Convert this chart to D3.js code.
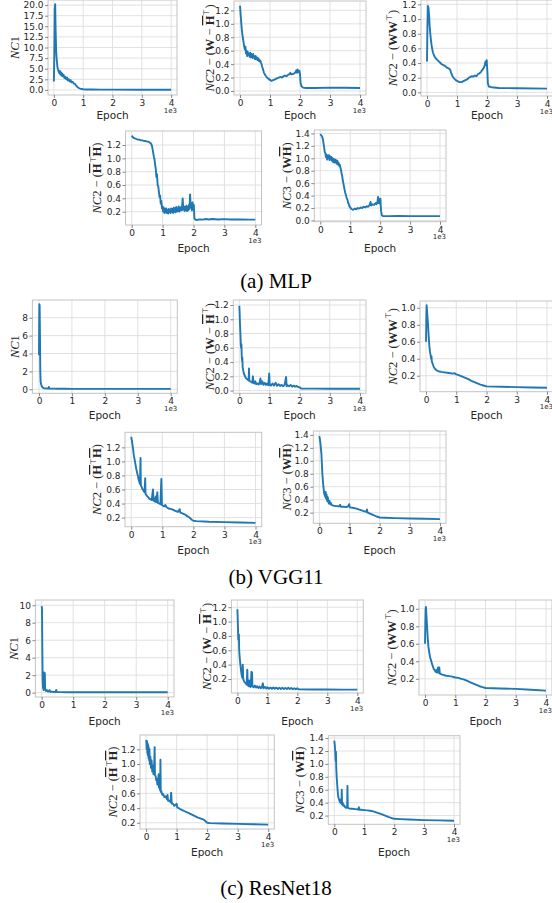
<!DOCTYPE html>
<html><head><meta charset="utf-8">
<script src="https://cdn.jsdelivr.net/npm/d3@7"></script>
<style>body{margin:0;background:#fff} svg{display:block}</style>
</head><body>
<svg id="fig" width="552" height="903"></svg>
<script>
// ---------------- DATA (epoch, value) ----------------
const mlpNC1 = [[0,2.0],[15,8],[30,19],[45,20.2],[60,14],[80,9],[100,7],[120,5.5],[140,4.8],[160,4.4],[180,4.0],[200,4.5],[220,3.6],[240,4.2],[260,3.4],[280,3.9],[300,3.2],[330,3.6],[360,2.8],[390,3.1],[420,2.5],[450,2.9],[480,2.2],[510,2.5],[540,2.0],[570,2.3],[600,1.8],[640,1.9],[680,1.5],[720,1.4],[760,1.0],[800,0.7],[850,0.45],[900,0.3],[950,0.2],[1000,0.15],[1100,0.1],[1300,0.08],[1600,0.07],[2000,0.06],[3000,0.05],[4000,0.05]];
const mlpNC2WH = [[0,1.27],[20,1.15],[40,1.02],[60,0.92],[80,0.84],[100,0.78],[120,0.72],[140,0.66],[160,0.62],[180,0.66],[200,0.56],[220,0.6],[240,0.52],[260,0.58],[280,0.54],[300,0.55],[320,0.51],[340,0.57],[360,0.5],[380,0.55],[400,0.53],[420,0.49],[440,0.55],[460,0.5],[480,0.52],[500,0.47],[520,0.52],[540,0.48],[560,0.5],[580,0.46],[600,0.49],[620,0.45],[640,0.47],[660,0.44],[680,0.45],[700,0.42],[720,0.4],[740,0.36],[760,0.33],[780,0.3],[800,0.27],[850,0.23],[900,0.2],[950,0.18],[1000,0.165],[1050,0.15],[1100,0.16],[1150,0.17],[1200,0.18],[1250,0.19],[1300,0.2],[1350,0.21],[1400,0.2],[1450,0.22],[1500,0.23],[1550,0.22],[1600,0.24],[1650,0.25],[1680,0.27],[1700,0.25],[1750,0.25],[1800,0.26],[1850,0.28],[1880,0.31],[1900,0.27],[1920,0.32],[1950,0.28],[1980,0.3],[2000,0.25],[2020,0.12],[2050,0.07],[2100,0.05],[2200,0.045],[2500,0.045],[3000,0.05],[3500,0.048],[4000,0.045]];
const mlpNC2WW = [[0,0.42],[15,0.9],[30,1.18],[50,1.15],[70,1.05],[90,0.9],[110,0.8],[130,0.72],[150,0.65],[170,0.6],[200,0.54],[250,0.49],[300,0.46],[350,0.44],[400,0.42],[450,0.4],[500,0.38],[550,0.37],[600,0.36],[650,0.34],[700,0.33],[750,0.32],[780,0.3],[800,0.27],[850,0.22],[900,0.19],[950,0.17],[1000,0.155],[1050,0.145],[1100,0.14],[1150,0.14],[1200,0.15],[1250,0.16],[1300,0.17],[1350,0.18],[1400,0.2],[1450,0.21],[1500,0.22],[1550,0.215],[1600,0.23],[1650,0.22],[1700,0.25],[1750,0.26],[1800,0.28],[1850,0.31],[1900,0.34],[1930,0.38],[1950,0.42],[1970,0.37],[1990,0.44],[2010,0.3],[2030,0.12],[2060,0.08],[2150,0.07],[2400,0.06],[3000,0.055],[4000,0.05]];
const mlpNC2HH = [[0,1.34],[50,1.31],[100,1.3],[150,1.29],[200,1.28],[250,1.28],[300,1.27],[350,1.27],[400,1.26],[450,1.26],[500,1.25],[550,1.25],[600,1.23],[630,1.22],[660,1.18],[690,1.1],[720,1.02],[740,0.98],[760,0.9],[780,0.84],[800,0.72],[820,0.76],[840,0.6],[860,0.58],[880,0.5],[900,0.42],[920,0.44],[940,0.32],[960,0.36],[980,0.25],[1000,0.28],[1020,0.2],[1040,0.26],[1060,0.18],[1080,0.24],[1100,0.19],[1120,0.25],[1140,0.18],[1160,0.22],[1180,0.17],[1200,0.24],[1220,0.19],[1240,0.23],[1260,0.18],[1280,0.25],[1300,0.2],[1320,0.24],[1340,0.18],[1360,0.26],[1380,0.2],[1400,0.25],[1420,0.19],[1440,0.27],[1460,0.2],[1480,0.25],[1500,0.21],[1520,0.28],[1540,0.2],[1560,0.26],[1580,0.22],[1600,0.27],[1620,0.22],[1650,0.4],[1670,0.23],[1690,0.28],[1710,0.21],[1730,0.27],[1750,0.22],[1770,0.29],[1790,0.21],[1810,0.27],[1830,0.22],[1850,0.3],[1870,0.24],[1890,0.46],[1910,0.26],[1930,0.32],[1950,0.22],[1970,0.34],[1990,0.24],[2010,0.3],[2030,0.1],[2060,0.08],[2100,0.075],[2200,0.085],[2300,0.08],[2400,0.09],[2500,0.082],[2600,0.09],[2800,0.083],[3000,0.088],[3200,0.082],[3500,0.085],[3800,0.08],[4000,0.08]];
const mlpNC3WH = [[0,1.39],[30,1.37],[60,1.35],[90,1.3],[120,1.2],[150,1.1],[170,1.08],[190,1.02],[210,1.06],[230,0.98],[250,1.04],[270,1.0],[290,1.05],[310,0.97],[330,1.03],[350,0.98],[370,1.02],[390,0.96],[410,1.0],[430,0.94],[450,0.99],[470,0.93],[490,0.98],[510,0.93],[530,0.97],[550,0.91],[570,0.96],[590,0.9],[610,0.93],[630,0.88],[650,0.9],[670,0.85],[690,0.82],[710,0.76],[730,0.72],[750,0.65],[770,0.6],[790,0.55],[810,0.5],[830,0.45],[850,0.42],[870,0.38],[890,0.35],[910,0.33],[930,0.28],[950,0.27],[970,0.23],[1000,0.21],[1030,0.19],[1060,0.18],[1100,0.17],[1150,0.19],[1200,0.18],[1250,0.2],[1300,0.19],[1350,0.21],[1400,0.2],[1450,0.22],[1500,0.21],[1550,0.23],[1600,0.22],[1650,0.25],[1680,0.3],[1700,0.24],[1750,0.26],[1800,0.25],[1850,0.28],[1880,0.26],[1910,0.3],[1930,0.38],[1950,0.28],[1970,0.34],[1990,0.27],[2010,0.35],[2030,0.15],[2060,0.08],[2100,0.07],[2300,0.07],[2600,0.072],[3000,0.07],[3500,0.07],[4000,0.07]];

const vggNC1 = [[0,3.8],[5,7],[10,9.5],[20,9.4],[30,6],[40,2],[50,0.8],[70,0.5],[90,0.3],[110,0.2],[150,0.12],[200,0.1],[250,0.08],[290,0.1],[300,0.25],[310,0.08],[400,0.07],[600,0.06],[800,0.06],[1000,0.05],[1500,0.05],[2000,0.04],[3000,0.04],[4000,0.04]];
const vggNC2WH = [[0,1.19],[10,1.1],[20,0.95],[30,0.85],[40,0.75],[50,0.64],[60,0.6],[70,0.65],[80,0.48],[90,0.42],[100,0.46],[110,0.33],[130,0.28],[150,0.24],[170,0.22],[200,0.19],[230,0.17],[260,0.16],[290,0.15],[310,0.14],[320,0.31],[330,0.14],[360,0.13],[400,0.12],[430,0.11],[450,0.2],[470,0.11],[500,0.1],[530,0.13],[560,0.09],[600,0.1],[640,0.085],[680,0.12],[700,0.17],[720,0.09],[760,0.13],[800,0.08],[840,0.11],[880,0.08],[920,0.1],[960,0.075],[990,0.24],[1010,0.08],[1050,0.07],[1100,0.1],[1150,0.07],[1200,0.11],[1250,0.065],[1300,0.09],[1350,0.065],[1400,0.08],[1450,0.06],[1500,0.08],[1550,0.19],[1570,0.06],[1600,0.075],[1650,0.06],[1700,0.08],[1750,0.055],[1800,0.07],[1850,0.055],[1900,0.065],[1950,0.05],[2000,0.045],[2050,0.03],[2200,0.028],[2500,0.027],[3000,0.026],[3500,0.025],[4000,0.025]];
const vggNC2WW = [[0,0.6],[10,0.9],[20,1.03],[30,0.98],[50,0.88],[70,0.78],[90,0.65],[110,0.55],[130,0.48],[150,0.44],[170,0.4],[180,0.43],[190,0.37],[200,0.36],[230,0.33],[260,0.3],[300,0.28],[350,0.265],[400,0.255],[450,0.25],[500,0.245],[600,0.24],[700,0.235],[800,0.23],[900,0.225],[950,0.23],[1000,0.215],[1100,0.205],[1200,0.19],[1300,0.175],[1400,0.16],[1500,0.14],[1600,0.125],[1700,0.11],[1800,0.095],[1900,0.085],[2000,0.075],[2500,0.07],[3000,0.066],[3500,0.062],[4000,0.058]];
const vggNC2HH = [[0,1.35],[20,1.3],[40,1.24],[60,1.18],[80,1.1],[100,1.05],[120,1.0],[140,0.95],[160,0.9],[180,0.86],[200,0.82],[220,0.78],[240,0.74],[260,0.71],[280,0.68],[300,1.05],[310,0.66],[340,0.63],[370,0.6],[400,0.58],[430,0.56],[450,0.76],[460,0.54],[490,0.52],[520,0.5],[550,0.49],[580,0.47],[620,0.46],[660,0.45],[700,0.6],[720,0.44],[760,0.43],[790,0.5],[810,0.42],[840,0.56],[860,0.41],[900,0.4],[940,0.39],[970,0.75],[990,0.38],[1020,0.37],[1060,0.36],[1100,0.38],[1130,0.35],[1200,0.33],[1300,0.32],[1400,0.3],[1500,0.28],[1560,0.32],[1580,0.27],[1650,0.26],[1700,0.25],[1750,0.24],[1800,0.22],[1850,0.21],[1900,0.19],[1950,0.17],[2000,0.155],[2100,0.15],[2500,0.14],[3000,0.135],[3500,0.13],[4000,0.125]];
const vggNC3WH = [[0,1.38],[20,1.33],[40,1.25],[60,1.15],[70,1.1],[80,1.0],[90,0.9],[100,0.8],[120,0.68],[140,0.58],[160,0.5],[180,0.47],[200,0.44],[210,0.52],[220,0.42],[240,0.48],[260,0.38],[280,0.44],[300,0.36],[320,0.34],[340,0.38],[360,0.33],[380,0.35],[400,0.32],[450,0.31],[500,0.305],[550,0.3],[600,0.3],[650,0.295],[690,0.32],[710,0.29],[800,0.29],[900,0.285],[960,0.3],[990,0.33],[1010,0.28],[1100,0.275],[1200,0.265],[1300,0.25],[1400,0.235],[1500,0.22],[1560,0.21],[1580,0.25],[1600,0.2],[1700,0.18],[1800,0.16],[1900,0.14],[2000,0.125],[2200,0.12],[2500,0.115],[3000,0.11],[3500,0.105],[4000,0.1]];

const resNC1 = [[0,9.9],[10,9.5],[20,5],[30,1.5],[40,0.6],[60,0.3],[70,2.3],[80,2.3],[100,2.2],[110,0.4],[130,0.2],[160,0.3],[180,0.15],[220,0.12],[250,0.3],[270,0.1],[320,0.1],[360,0.08],[440,0.08],[460,0.3],[480,0.07],[600,0.06],[800,0.05],[1000,0.05],[2000,0.05],[3000,0.04],[4000,0.04]];
const resNC2WH = [[0,1.17],[10,1.05],[20,0.9],[30,0.75],[40,0.82],[50,0.82],[60,0.6],[80,0.48],[100,0.4],[120,0.32],[140,0.26],[160,0.22],[180,0.4],[195,0.2],[220,0.17],[250,0.15],[280,0.14],[310,0.12],[330,0.33],[345,0.12],[370,0.1],[390,0.18],[410,0.1],[440,0.09],[470,0.3],[490,0.29],[500,0.1],[540,0.085],[580,0.11],[620,0.08],[660,0.1],[700,0.075],[740,0.095],[780,0.07],[820,0.09],[850,0.14],[870,0.07],[920,0.09],[960,0.068],[1000,0.085],[1050,0.065],[1100,0.08],[1150,0.064],[1200,0.082],[1250,0.064],[1300,0.08],[1350,0.062],[1400,0.078],[1450,0.062],[1500,0.078],[1550,0.06],[1600,0.076],[1650,0.06],[1700,0.078],[1750,0.06],[1800,0.075],[1850,0.058],[1900,0.072],[1950,0.058],[2000,0.07],[2050,0.055],[2500,0.054],[3000,0.053],[3500,0.052],[4000,0.052]];
const resNC2WW = [[0,0.6],[10,0.85],[20,1.0],[30,1.02],[50,0.9],[70,0.78],[90,0.66],[110,0.57],[130,0.52],[150,0.48],[170,0.44],[200,0.41],[230,0.37],[260,0.34],[290,0.31],[320,0.3],[350,0.28],[380,0.3],[400,0.27],[430,0.33],[450,0.27],[470,0.33],[490,0.26],[550,0.25],[600,0.245],[700,0.235],[800,0.23],[900,0.225],[1000,0.215],[1100,0.21],[1200,0.2],[1300,0.19],[1400,0.175],[1500,0.16],[1600,0.145],[1700,0.13],[1800,0.115],[1900,0.105],[2000,0.095],[2500,0.09],[3000,0.085],[3500,0.075],[4000,0.065]];
const resNC2HH = [[0,1.33],[10,1.3],[20,1.2],[30,1.31],[40,1.15],[50,1.28],[60,1.12],[70,1.26],[80,1.08],[90,1.22],[100,1.05],[110,1.2],[120,1.0],[140,1.1],[160,0.95],[180,1.05],[200,0.9],[220,0.98],[240,0.86],[260,0.92],[280,1.23],[290,0.85],[310,0.84],[330,0.78],[350,0.8],[370,0.72],[390,0.74],[410,0.86],[420,0.68],[440,0.7],[460,0.64],[470,1.06],[480,0.62],[500,0.63],[530,0.58],[560,0.59],[600,0.55],[640,0.56],[680,0.52],[700,0.58],[720,0.5],[760,0.5],[800,0.48],[820,0.61],[840,0.46],[880,0.46],[920,0.43],[960,0.44],[1000,0.46],[1020,0.41],[1100,0.39],[1200,0.37],[1300,0.35],[1400,0.33],[1500,0.31],[1600,0.29],[1700,0.27],[1800,0.255],[1900,0.24],[1950,0.22],[2000,0.2],[2100,0.195],[2500,0.19],[3000,0.185],[3500,0.18],[4000,0.175]];
const resNC3WH = [[0,1.36],[15,1.3],[30,1.2],[45,1.05],[55,1.19],[65,0.95],[80,0.8],[95,0.7],[110,0.6],[125,0.52],[140,0.48],[160,0.45],[180,0.42],[200,0.4],[220,0.45],[240,0.38],[250,0.6],[260,0.37],[280,0.4],[300,0.35],[330,0.36],[360,0.33],[400,0.32],[430,0.34],[440,0.66],[450,0.32],[500,0.31],[600,0.305],[700,0.3],[800,0.295],[820,0.33],[840,0.29],[900,0.29],[1000,0.285],[1100,0.28],[1200,0.275],[1300,0.265],[1400,0.25],[1500,0.235],[1600,0.22],[1700,0.2],[1800,0.18],[1900,0.165],[2000,0.15],[2200,0.145],[2500,0.14],[3000,0.13],[3500,0.125],[4000,0.12]];

// ---------------- TICKS & TEXT ----------------
const xTicks = [0,1000,2000,3000,4000];
const xTickLabels = ["0","1","2","3","4"];
const xOffsetText = "1e3";
const xLabelText = "Epoch";
const yTicksNC1mlp = [0,2.5,5,7.5,10,12.5,15,17.5,20];
const yTicksNC1vgg = [0,2,4,6,8];
const yTicksNC1res = [0,2,4,6,8,10];
const yTicks0to12 = [0,0.2,0.4,0.6,0.8,1.0,1.2];
const yTicks02to12 = [0.2,0.4,0.6,0.8,1.0,1.2];
const yTicks0to14 = [0,0.2,0.4,0.6,0.8,1.0,1.2,1.4];
const yTicks02to14 = [0.2,0.4,0.6,0.8,1.0,1.2,1.4];
const yTicks02to10 = [0.2,0.4,0.6,0.8,1.0];
const captions = ["(a) MLP","(b) VGG11","(c) ResNet18"];

// label pieces: s = it (italic), b (bold), bo (bold+overline), sup (superscript)
const labNC1 = [{t:"NC",s:"it"},{t:"1"}];
const labWH2 = [{t:"NC",s:"it"},{t:"2 − ("},{t:"W",s:"b"},{t:" − "},{t:"H",s:"bo"},{t:"⊤",s:"sup"},{t:")"}];
const labWW2 = [{t:"NC",s:"it"},{t:"2 − ("},{t:"WW",s:"b"},{t:"⊤",s:"sup"},{t:")"}];
const labHH2 = [{t:"NC",s:"it"},{t:"2 − ("},{t:"H",s:"bo"},{t:"⊤",s:"sup"},{t:"H",s:"bo"},{t:")"}];
const labWH3 = [{t:"NC",s:"it"},{t:"3 − ("},{t:"W",s:"b"},{t:"H",s:"bo"},{t:")"}];

// ---------------- LAYOUT ----------------
const panels = [
  {data:mlpNC1, ticks:yTicksNC1mlp, fmt:".1f", lab:labNC1, frame:[48,0,177,95], yd:[-1.2,21.2], lx:15, ey:115},
  {data:mlpNC2WH, ticks:yTicks0to12, fmt:".1f", lab:labWH2, frame:[234,1,366,95], yd:[-0.06,1.34], lx:210, ey:115},
  {data:mlpNC2WW, ticks:yTicks0to12, fmt:".1f", lab:labWW2, frame:[421,0,553,96], yd:[-0.05,1.26], lx:393, ey:115},
  {data:mlpNC2HH, ticks:yTicks02to12, fmt:".1f", lab:labHH2, frame:[125.5,131,261.5,225], yd:[0.0,1.41], lx:97, ey:248},
  {data:mlpNC3WH, ticks:yTicks0to14, fmt:".1f", lab:labWH3, frame:[314.3,130,446,221.7], yd:[-0.02,1.455], lx:287, ey:248},

  {data:vggNC1, ticks:yTicksNC1vgg, fmt:"d", lab:labNC1, frame:[32.4,300,177.3,393.3], yd:[-0.45,9.98], lx:15, ey:415},
  {data:vggNC2WH, ticks:yTicks0to12, fmt:".1f", lab:labWH2, frame:[233.3,300,366,393.3], yd:[-0.038,1.27], lx:210, ey:415},
  {data:vggNC2WW, ticks:yTicks02to10, fmt:".1f", lab:labWW2, frame:[420,301,553,391.7], yd:[0.012,1.08], lx:393, ey:415},
  {data:vggNC2HH, ticks:yTicks02to12, fmt:".1f", lab:labHH2, frame:[125,432.3,261.7,526.7], yd:[0.07,1.415], lx:97, ey:550},
  {data:vggNC3WH, ticks:yTicks02to14, fmt:".1f", lab:labWH3, frame:[313.3,431,446,523.3], yd:[0.035,1.46], lx:287, ey:550},

  {data:resNC1, ticks:yTicksNC1res, fmt:"d", lab:labNC1, frame:[35.4,600,174,697], yd:[-0.5,10.6], lx:14, ey:721},
  {data:resNC2WH, ticks:yTicks02to12, fmt:".1f", lab:labWH2, frame:[231.4,600,363.3,693], yd:[0.005,1.3], lx:207, ey:721},
  {data:resNC2WW, ticks:yTicks02to10, fmt:".1f", lab:labWW2, frame:[419,600,552,695], yd:[0.015,1.1], lx:392, ey:721},
  {data:resNC2HH, ticks:yTicks02to12, fmt:".1f", lab:labHH2, frame:[140,735,274.3,829], yd:[0.115,1.395], lx:113, ey:852},
  {data:resNC3WH, ticks:yTicks02to14, fmt:".1f", lab:labWH3, frame:[328.3,735.7,460,824.3], yd:[0.065,1.437], lx:300, ey:852}
];
const captionY = [281, 577, 888];

// ---------------- DRAW ----------------
const svg = d3.select("#fig");
const TXT = "#262626", GRID = "#dedede", EDGE = "#c4c4c4", LINE = "#1f77b4";
const sans = "DejaVu Sans, sans-serif";
const serif = "Liberation Serif, Times New Roman, serif";

panels.forEach((p, i) => {
  const [x0,y0,x1,y1] = p.frame;
  const x = d3.scaleLinear().domain([-200,4200]).range([x0,x1]);
  const y = d3.scaleLinear().domain(p.yd).range([y1,y0]);
  const g = svg.append("g");
  const cid = "clip" + i;
  svg.append("clipPath").attr("id", cid).append("rect")
    .attr("x", x0).attr("y", y0).attr("width", x1-x0).attr("height", y1-y0);

  // grid
  g.append("g").selectAll("line").data(xTicks).join("line")
    .attr("x1", d=>x(d)).attr("x2", d=>x(d)).attr("y1", y0).attr("y2", y1)
    .attr("stroke", GRID).attr("stroke-width", 0.9);
  g.append("g").selectAll("line").data(p.ticks).join("line")
    .attr("x1", x0).attr("x2", x1).attr("y1", d=>y(d)).attr("y2", d=>y(d))
    .attr("stroke", GRID).attr("stroke-width", 0.9);

  // curve
  g.append("path").datum(p.data)
    .attr("clip-path", `url(#${cid})`)
    .attr("d", d3.line().x(d=>x(d[0])).y(d=>y(d[1])))
    .attr("fill", "none").attr("stroke", LINE).attr("stroke-width", 1.9)
    .attr("stroke-linejoin", "round");

  // frame
  g.append("rect").attr("x", x0).attr("y", y0).attr("width", x1-x0).attr("height", y1-y0)
    .attr("fill", "none").attr("stroke", EDGE).attr("stroke-width", 1);

  // axes
  const ax = g.append("g").attr("transform", `translate(0,${y1})`)
    .call(d3.axisBottom(x).tickValues(xTicks).tickFormat((d,k)=>xTickLabels[k]).tickSize(3).tickPadding(1.5));
  const ay = g.append("g").attr("transform", `translate(${x0},0)`)
    .call(d3.axisLeft(y).tickValues(p.ticks).tickFormat(d3.format(p.fmt)).tickSize(3).tickPadding(1.5));
  [ax, ay].forEach(a => {
    a.select(".domain").remove();
    a.selectAll("line").attr("stroke", "#6a6a6a").attr("stroke-width", 0.8);
    a.selectAll("text").attr("fill", TXT).style("font-family", sans).style("font-size", "9px");
  });

  // offset text 1e3
  g.append("text").attr("x", x1).attr("y", y1 + 17.5).attr("text-anchor", "end")
    .style("font-family", sans).style("font-size", "7px").attr("fill", TXT).text(xOffsetText);

  // x label
  g.append("text").attr("x", (x0+x1)/2).attr("y", p.ey).attr("text-anchor", "middle")
    .attr("dominant-baseline", "central")
    .style("font-family", sans).style("font-size", "10.5px").attr("fill", TXT).text(xLabelText);

  // y label
  const cy = (y0+y1)/2;
  const t = g.append("text").attr("x", p.lx).attr("y", cy)
    .attr("transform", `rotate(-90,${p.lx},${cy})`)
    .attr("text-anchor", "middle").attr("dominant-baseline", "central")
    .style("font-family", serif).style("font-size", "12.5px").attr("fill", TXT);
  let raised = false;
  p.lab.forEach(part => {
    const ts = t.append("tspan").text(part.t);
    if (part.s === "it") ts.style("font-style", "italic");
    if (part.s === "b" || part.s === "bo") ts.style("font-weight", "bold");
    if (part.s === "bo") ts.style("text-decoration", "overline");
    if (part.s === "sup") { ts.attr("dy", -4.5).style("font-size", "8px"); raised = true; }
    else if (raised) { ts.attr("dy", 4.5); raised = false; }
  });
});

svg.selectAll("text.cap").data(captions).join("text").attr("class", "cap")
  .attr("x", 276).attr("y", (d,i)=>captionY[i]).attr("text-anchor", "middle")
  .attr("dominant-baseline", "central")
  .style("font-family", serif).style("font-size", "21px").attr("fill", "#000").text(d=>d);
</script>
</body></html>
